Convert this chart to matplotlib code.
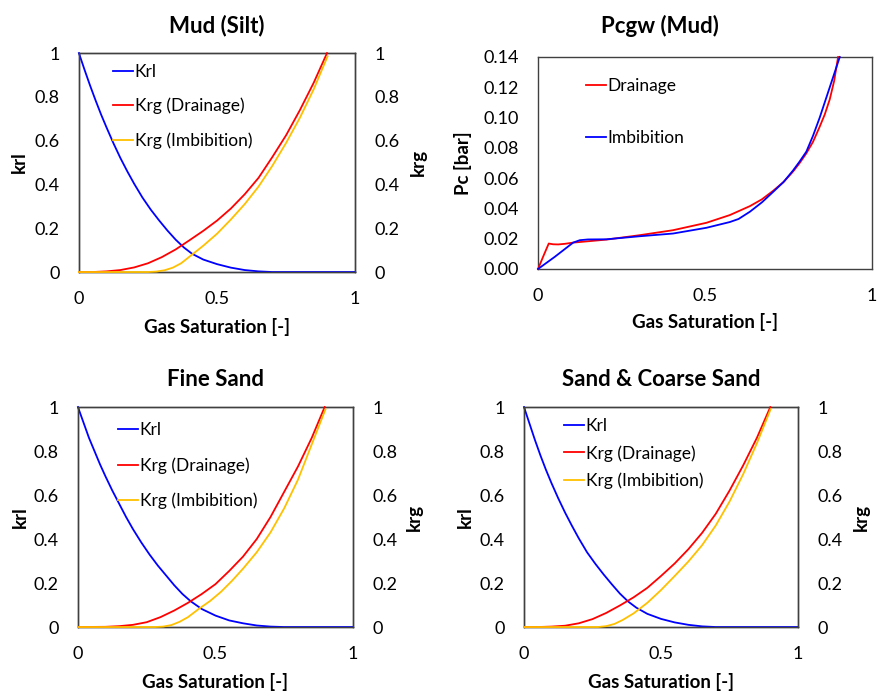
import numpy as np
import matplotlib.pyplot as plt

plt.rcParams['font.family'] = ['Lato', 'DejaVu Sans']

# ---- values ----
# Mud (Silt)
mud_krl_sg = [0, 0.02, 0.04, 0.06, 0.08, 0.1, 0.125, 0.15, 0.175, 0.2, 0.23, 0.26, 0.29, 0.32, 0.35, 0.38, 0.41, 0.45, 0.5, 0.55, 0.6, 0.65, 0.7, 1.0]
mud_krl = [1, 0.925, 0.853, 0.785, 0.72, 0.66, 0.588, 0.521, 0.46, 0.403, 0.34, 0.285, 0.236, 0.19, 0.148, 0.112, 0.083, 0.057, 0.036, 0.02, 0.009, 0.003, 0.0, 0.0]
mud_drn_sg = [0, 0.05, 0.1, 0.15, 0.2, 0.25, 0.3, 0.35, 0.4, 0.45, 0.5, 0.55, 0.6, 0.65, 0.7, 0.75, 0.8, 0.85, 0.898]
mud_drn = [0, 0.0, 0.003, 0.009, 0.021, 0.04, 0.068, 0.103, 0.145, 0.188, 0.235, 0.29, 0.355, 0.43, 0.525, 0.625, 0.74, 0.865, 1.0]
mud_imb_sg = [0, 0.25, 0.28, 0.31, 0.34, 0.37, 0.4, 0.45, 0.5, 0.55, 0.6, 0.65, 0.7, 0.75, 0.8, 0.85, 0.9]
mud_imb = [0, 0, 0.002, 0.008, 0.02, 0.04, 0.07, 0.12, 0.175, 0.24, 0.31, 0.39, 0.485, 0.59, 0.705, 0.835, 0.985]

# Fine Sand
fine_krl_sg = [0, 0.02, 0.04, 0.06, 0.08, 0.1, 0.125, 0.15, 0.175, 0.2, 0.23, 0.26, 0.29, 0.32, 0.35, 0.38, 0.41, 0.45, 0.5, 0.55, 0.6, 0.65, 0.7, 0.75, 1.0]
fine_krl = [1, 0.93, 0.86, 0.8, 0.74, 0.685, 0.62, 0.56, 0.5, 0.445, 0.385, 0.33, 0.28, 0.235, 0.19, 0.15, 0.117, 0.082, 0.052, 0.03, 0.017, 0.007, 0.002, 0.0, 0.0]
fine_drn_sg = [0, 0.1, 0.15, 0.2, 0.25, 0.3, 0.35, 0.4, 0.45, 0.5, 0.55, 0.6, 0.65, 0.7, 0.75, 0.8, 0.85, 0.897]
fine_drn = [0, 0.001, 0.004, 0.01, 0.022, 0.045, 0.075, 0.11, 0.15, 0.195, 0.255, 0.32, 0.4, 0.5, 0.615, 0.73, 0.86, 1.0]
fine_imb_sg = [0, 0.28, 0.31, 0.34, 0.37, 0.4, 0.44, 0.48, 0.52, 0.56, 0.6, 0.65, 0.7, 0.75, 0.8, 0.85, 0.9]
fine_imb = [0, 0, 0.002, 0.009, 0.024, 0.045, 0.083, 0.118, 0.16, 0.21, 0.265, 0.34, 0.43, 0.54, 0.67, 0.83, 0.99]

# Sand & Coarse Sand
sand_krl_sg = [0, 0.02, 0.04, 0.06, 0.08, 0.1, 0.125, 0.15, 0.175, 0.2, 0.23, 0.26, 0.29, 0.32, 0.35, 0.38, 0.41, 0.45, 0.5, 0.55, 0.6, 0.65, 0.7, 1.0]
sand_krl = [1, 0.925, 0.85, 0.78, 0.715, 0.655, 0.585, 0.52, 0.46, 0.403, 0.34, 0.288, 0.24, 0.195, 0.152, 0.116, 0.088, 0.06, 0.037, 0.021, 0.01, 0.003, 0.0, 0.0]
sand_drn_sg = [0, 0.05, 0.1, 0.15, 0.2, 0.25, 0.3, 0.35, 0.4, 0.45, 0.5, 0.55, 0.6, 0.65, 0.7, 0.75, 0.8, 0.85, 0.899]
sand_drn = [0, 0.0, 0.002, 0.006, 0.017, 0.036, 0.064, 0.098, 0.135, 0.178, 0.232, 0.289, 0.354, 0.428, 0.515, 0.62, 0.735, 0.86, 1.0]
sand_imb_sg = [0, 0.27, 0.3, 0.33, 0.36, 0.4, 0.45, 0.5, 0.55, 0.6, 0.65, 0.7, 0.75, 0.8, 0.85, 0.9]
sand_imb = [0, 0, 0.004, 0.014, 0.032, 0.062, 0.11, 0.168, 0.232, 0.298, 0.372, 0.462, 0.57, 0.695, 0.835, 0.99]

# Pcgw (Mud)
pc_drn_sg = [0, 0.015, 0.032, 0.045, 0.06, 0.08, 0.105, 0.15, 0.205, 0.304, 0.404, 0.504, 0.574, 0.634, 0.67, 0.704, 0.735, 0.763, 0.783, 0.803, 0.823, 0.843, 0.858, 0.873, 0.886, 0.898]
pc_drn = [0, 0.008, 0.0168, 0.0163, 0.0162, 0.0166, 0.0174, 0.0183, 0.0194, 0.0223, 0.0256, 0.0305, 0.0356, 0.0415, 0.046, 0.0517, 0.0575, 0.0643, 0.07, 0.0764, 0.084, 0.094, 0.102, 0.112, 0.124, 0.14]
pc_imb_sg = [0, 0.05, 0.105, 0.125, 0.15, 0.205, 0.304, 0.404, 0.504, 0.574, 0.6, 0.634, 0.67, 0.704, 0.735, 0.763, 0.783, 0.803, 0.823, 0.843, 0.858, 0.873, 0.888, 0.903]
pc_imb = [0, 0.008, 0.0174, 0.019, 0.0195, 0.0196, 0.0216, 0.0234, 0.0272, 0.031, 0.033, 0.0378, 0.044, 0.051, 0.0575, 0.065, 0.071, 0.0775, 0.088, 0.10, 0.11, 0.12, 0.13, 0.14]

# ticks
sg_ticks = [0, 0.5, 1]
sg_tick_labels = ['0', '0.5', '1']
kr_ticks = [0, 0.2, 0.4, 0.6, 0.8, 1]
kr_tick_labels = ['0', '0.2', '0.4', '0.6', '0.8', '1']
pc_ticks = [0, 0.02, 0.04, 0.06, 0.08, 0.10, 0.12, 0.14]
pc_tick_labels = ['0.00', '0.02', '0.04', '0.06', '0.08', '0.10', '0.12', '0.14']

BLUE = '#0000FF'
RED = '#FF0000'
GOLD = '#FFC000'
FRAME = '#404040'
LW = 1.3
LEG_FS = 12.5


def style_axis(ax):
    for sp in ax.spines.values():
        sp.set_color(FRAME)
        sp.set_linewidth(1.0)
    ax.tick_params(length=0, pad=14, labelsize=13)


def set_xlabel_centered(ax, y):
    ax.set_xlabel('Gas Saturation [-]', fontsize=13.5, fontweight='bold')
    ax.xaxis.label.set_va('center')
    ax.xaxis.set_label_coords(0.5, y)


def set_ylabel_centered(ax, text, x):
    ax.set_ylabel(text, fontsize=13.5, fontweight='bold')
    ax.yaxis.label.set_va('center')
    ax.yaxis.label.set_ha('center')
    ax.yaxis.set_label_coords(x, 0.5)


def kr_panel(fig, rect, title, krl_sg, krl, drn_sg, drn, imb_sg, imb,
             leg_xy, leg_space, lab_left, lab_right):
    ax = fig.add_axes(rect)
    ax2 = ax.twinx()
    l1, = ax.plot(krl_sg, krl, color=BLUE, lw=LW, label='Krl', clip_on=False, zorder=3)
    l2, = ax2.plot(drn_sg, drn, color=RED, lw=LW, label='Krg (Drainage)', clip_on=False, zorder=3)
    l3, = ax2.plot(imb_sg, imb, color=GOLD, lw=LW, label='Krg (Imbibition)', clip_on=False, zorder=3)
    for a in (ax, ax2):
        a.set_xlim(0, 1)
        a.set_ylim(0, 1)
        a.set_yticks(kr_ticks, kr_tick_labels)
        style_axis(a)
    ax.set_xticks(sg_ticks, sg_tick_labels)
    ax.set_title(title, fontsize=16, fontweight='bold', pad=15)
    set_xlabel_centered(ax, -0.251)
    set_ylabel_centered(ax, 'krl', lab_left)
    set_ylabel_centered(ax2, 'krg', lab_right)
    ax2.legend(handles=[l1, l2, l3], loc='upper left', bbox_to_anchor=leg_xy,
               frameon=False, fontsize=LEG_FS, handlelength=1.15, handletextpad=0.1,
               borderpad=0, borderaxespad=0, labelspacing=leg_space)
    return ax


fig = plt.figure(figsize=(8.77, 6.95), dpi=100)

kr_panel(fig, [0.090, 0.6086, 0.315, 0.315], 'Mud (Silt)',
         mud_krl_sg, mud_krl, mud_drn_sg, mud_drn, mud_imb_sg, mud_imb,
         (0.123, 0.95), 1.03, -0.217, 1.228)
kr_panel(fig, [0.0889, 0.0978, 0.3136, 0.3165], 'Fine Sand',
         fine_krl_sg, fine_krl, fine_drn_sg, fine_drn, fine_imb_sg, fine_imb,
         (0.145, 0.93), 1.09, -0.211, 1.225)
kr_panel(fig, [0.5975, 0.0978, 0.3124, 0.3165], 'Sand & Coarse Sand',
         sand_krl_sg, sand_krl, sand_drn_sg, sand_drn, sand_imb_sg, sand_imb,
         (0.146, 0.95), 0.63, -0.215, 1.23)

# capillary pressure panel
axp = fig.add_axes([0.6135, 0.613, 0.381, 0.305])
axp.plot(pc_drn_sg, pc_drn, color=RED, lw=LW, label='Drainage', clip_on=False, zorder=3)
axp.plot(pc_imb_sg, pc_imb, color=BLUE, lw=LW, label='Imbibition', clip_on=False, zorder=3)
axp.set_xlim(0, 1)
axp.set_ylim(0, 0.14)
axp.set_xticks(sg_ticks, sg_tick_labels)
axp.set_yticks(pc_ticks, pc_tick_labels)
style_axis(axp)
axp.set_title('Pcgw (Mud)', fontsize=16, fontweight='bold', pad=17, x=0.365)
set_xlabel_centered(axp, -0.25)
set_ylabel_centered(axp, 'Pc [bar]', -0.225)
axp.legend(loc='upper left', bbox_to_anchor=(0.144, 0.90), frameon=False, fontsize=LEG_FS,
           handlelength=1.15, handletextpad=0.1, borderpad=0, borderaxespad=0,
           labelspacing=2.07)

fig.savefig('out.png', dpi=100)
